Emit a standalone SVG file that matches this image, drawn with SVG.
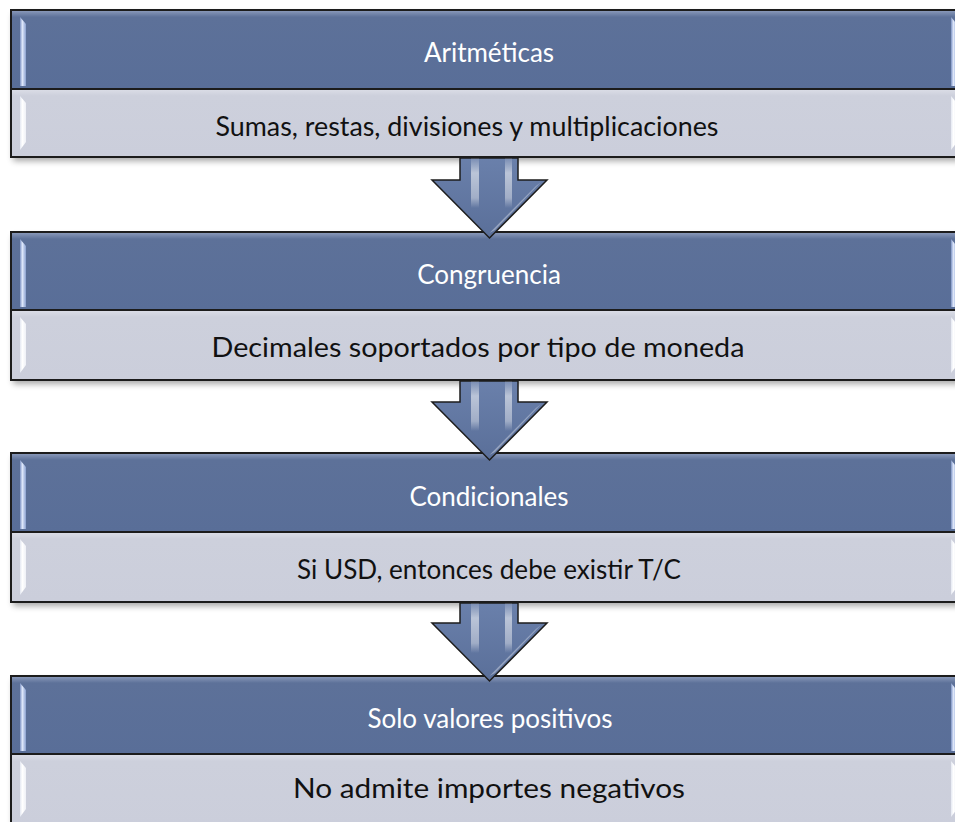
<svg xmlns="http://www.w3.org/2000/svg" width="955" height="822" viewBox="0 0 955 822">
<defs>
<linearGradient id="hdr" x1="0" y1="0" x2="0" y2="1">
<stop offset="0" stop-color="#8e9dbd"/>
<stop offset="0.09" stop-color="#5d7199"/>
<stop offset="1" stop-color="#596e98"/>
</linearGradient>
<linearGradient id="bdy" x1="0" y1="0" x2="0" y2="1">
<stop offset="0" stop-color="#dcdee7"/>
<stop offset="0.1" stop-color="#cdd0dc"/>
<stop offset="1" stop-color="#cbcedb"/>
</linearGradient>
<linearGradient id="glossH" x1="0" y1="0" x2="1" y2="0">
<stop offset="0" stop-color="#7d93c4"/>
<stop offset="0.4" stop-color="#dfe8fb"/>
<stop offset="1" stop-color="#8aa0cf"/>
</linearGradient>
<linearGradient id="glossB" x1="0" y1="0" x2="1" y2="0">
<stop offset="0" stop-color="#e4e8f2"/>
<stop offset="0.4" stop-color="#ffffff"/>
<stop offset="1" stop-color="#eef0f6"/>
</linearGradient>
<linearGradient id="stripe" x1="0" y1="0" x2="0" y2="1">
<stop offset="0" stop-color="#ffffff" stop-opacity="0.1"/>
<stop offset="0.3" stop-color="#ffffff" stop-opacity="0.55"/>
<stop offset="0.8" stop-color="#ffffff" stop-opacity="0.4"/>
<stop offset="1" stop-color="#ffffff" stop-opacity="0"/>
</linearGradient>
<linearGradient id="arrowFill" x1="0" y1="0" x2="0" y2="1">
<stop offset="0" stop-color="#6a80ab"/>
<stop offset="1" stop-color="#5a6f99"/>
</linearGradient>
<filter id="shadow" x="-5%" y="-20%" width="110%" height="140%">
<feGaussianBlur stdDeviation="3"/>
</filter>
<style>
.frame{fill:none;stroke:#1c1c1c;stroke-width:2}
.hdr{fill:url(#hdr)}
.bdy{fill:url(#bdy)}
.sh{fill:#000;opacity:0.35;filter:url(#shadow)}
.gh{fill:url(#glossH)}
.gb{fill:url(#glossB)}
.ht{font-family:Lato,"Open Sans","Liberation Sans",sans-serif;font-size:26px;fill:#ffffff;text-anchor:middle}
.bt{font-family:Lato,"Open Sans","Liberation Sans",sans-serif;font-size:27px;fill:#111111;text-anchor:middle}
.arrow{fill:url(#arrowFill);stroke:#1c1c1c;stroke-width:1.5;stroke-linejoin:miter}
.stripe{fill:url(#stripe)}
.hl{fill:#ffffff;opacity:0.35}
</style>
</defs>

<g id="node1">
<rect class="sh" x="13" y="14" width="950" height="147"/>
<rect class="hdr" x="11" y="10" width="950" height="79"/>
<rect class="bdy" x="11" y="89" width="950" height="68"/>
<polygon class="gh" points="20,17 26,24 26,86 20,86"/>
<polygon class="gb" points="20,96 26,103 26,142 20,150"/>
<polygon class="gh" points="951,17 957,24 957,86 951,86"/>
<polygon class="gb" points="951,96 957,103 957,142 951,150"/>
<rect class="frame" x="11" y="10" width="950" height="147"/>
<line class="frame" x1="11" y1="89" x2="961" y2="89"/>
<text class="ht" x="489" y="62">Aritméticas</text>
<text class="bt" x="467" y="136" textLength="503" lengthAdjust="spacingAndGlyphs">Sumas, restas, divisiones y multiplicaciones</text>
</g>

<g id="node2">
<rect class="sh" x="13" y="236" width="950" height="148"/>
<rect class="hdr" x="11" y="232" width="950" height="78"/>
<rect class="bdy" x="11" y="310" width="950" height="70"/>
<polygon class="gh" points="20,239 26,246 26,307 20,307"/>
<polygon class="gb" points="20,317 26,324 26,365 20,373"/>
<polygon class="gh" points="951,239 957,246 957,307 951,307"/>
<polygon class="gb" points="951,317 957,324 957,365 951,373"/>
<rect class="frame" x="11" y="232" width="950" height="148"/>
<line class="frame" x1="11" y1="310" x2="961" y2="310"/>
<text class="ht" x="489" y="284">Congruencia</text>
<text class="bt" x="478" y="357" textLength="533" lengthAdjust="spacingAndGlyphs">Decimales soportados por tipo de moneda</text>
</g>

<g id="node3">
<rect class="sh" x="13" y="457" width="950" height="149"/>
<rect class="hdr" x="11" y="453" width="950" height="79"/>
<rect class="bdy" x="11" y="532" width="950" height="70"/>
<polygon class="gh" points="20,460 26,467 26,529 20,529"/>
<polygon class="gb" points="20,539 26,546 26,587 20,595"/>
<polygon class="gh" points="951,460 957,467 957,529 951,529"/>
<polygon class="gb" points="951,539 957,546 957,587 951,595"/>
<rect class="frame" x="11" y="453" width="950" height="149"/>
<line class="frame" x1="11" y1="532" x2="961" y2="532"/>
<text class="ht" x="489" y="506">Condicionales</text>
<text class="bt" x="489" y="579" textLength="384" lengthAdjust="spacingAndGlyphs">Si USD, entonces debe existir T/C</text>
</g>

<g id="node4">
<rect class="sh" x="13" y="680" width="950" height="150"/>
<rect class="hdr" x="11" y="676" width="950" height="78"/>
<rect class="bdy" x="11" y="754" width="950" height="72"/>
<polygon class="gh" points="20,683 26,690 26,751 20,751"/>
<polygon class="gb" points="20,761 26,768 26,809 20,817"/>
<polygon class="gh" points="951,683 957,690 957,751 951,751"/>
<polygon class="gb" points="951,761 957,768 957,809 951,817"/>
<rect class="frame" x="11" y="676" width="950" height="150"/>
<line class="frame" x1="11" y1="754" x2="961" y2="754"/>
<text class="ht" x="490" y="728">Solo valores positivos</text>
<text class="bt" x="489" y="798" textLength="392" lengthAdjust="spacingAndGlyphs">No admite importes negativos</text>
</g>

<g id="connectors">
<g id="arrow1">
<polygon class="arrow" points="460,158 518,158 518,180 547,180 489.5,238 432,180 460,180"/>
<rect class="stripe" x="471" y="158" width="8" height="50"/>
<rect class="stripe" x="505" y="158" width="7" height="50"/>
<polygon class="hl" points="536,186 541,182 495,230 489.5,233"/>
</g>
<g id="arrow2">
<polygon class="arrow" points="460,381 518,381 518,402 547,402 489.5,460 432,402 460,402"/>
<rect class="stripe" x="471" y="381" width="8" height="50"/>
<rect class="stripe" x="505" y="381" width="7" height="50"/>
<polygon class="hl" points="536,408 541,404 495,452 489.5,455"/>
</g>
<g id="arrow3">
<polygon class="arrow" points="460,603 518,603 518,623 547,623 489.5,681 432,623 460,623"/>
<rect class="stripe" x="471" y="603" width="8" height="50"/>
<rect class="stripe" x="505" y="603" width="7" height="50"/>
<polygon class="hl" points="536,629 541,625 495,673 489.5,676"/>
</g>
</g>
</svg>
